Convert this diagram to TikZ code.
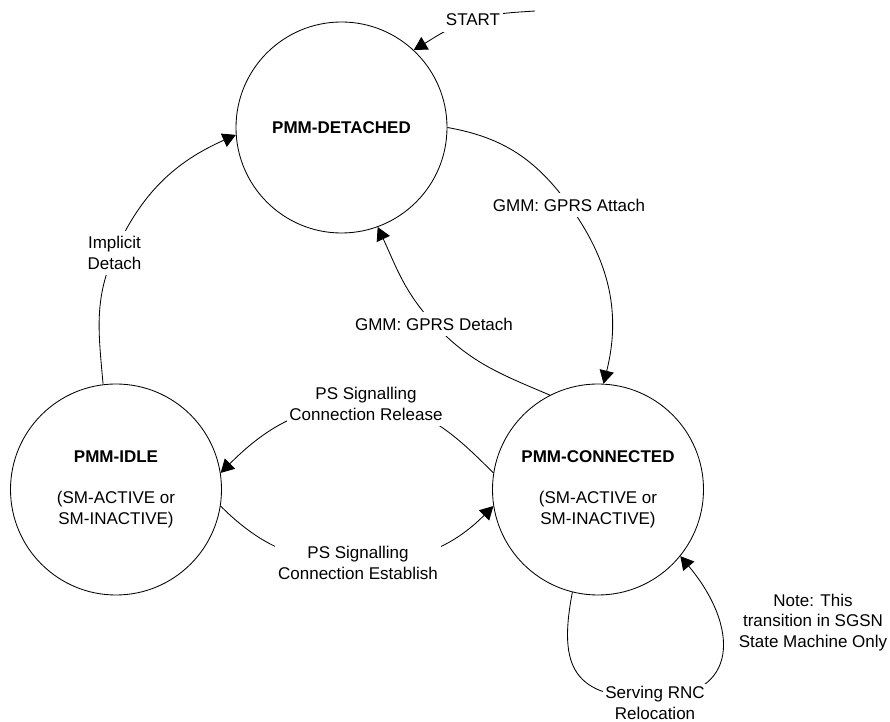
\documentclass[tikz,border=0pt]{standalone}
\usepackage{fontspec}
\setmainfont{Liberation Sans}
\usepackage{xcolor}
\usepackage{tikz}
\usetikzlibrary{arrows.meta,positioning}
\definecolor{bg}{HTML}{FFFFFF}
\definecolor{ink}{HTML}{000000}
\newcommand{\diafont}{\fontsize{12.1}{14.6}\selectfont}
\tikzset{
  pmmstate/.style={circle, draw=ink, line width=0.6pt, minimum size=52.75mm, inner sep=0pt, align=center, text=ink, font=\diafont},
  trans/.style={draw=ink, line width=0.6pt, -{Triangle[length=3.3mm, width=3.6mm]}},
  lab/.style={text=ink, fill=bg, inner xsep=2pt, inner ysep=4pt, align=center, font=\diafont},
  notetext/.style={text=ink, align=center, font=\diafont},
}

\begin{document}
\begin{tikzpicture}[x=0.25mm, y=-0.25mm]
\useasboundingbox (0,0) rectangle (890,722);
\fill[bg] (0,0) rectangle (890,722);

\node[pmmstate] (det) at (341.5,127.5) {\textbf{PMM-DETACHED}};
\node[pmmstate] (idle) at (116,489.5) {\textbf{PMM-IDLE}\\[14.6pt](SM-ACTIVE or\\SM-INACTIVE)};
\node[pmmstate] (con) at (598,489.5) {\textbf{PMM-CONNECTED}\\[14.6pt](SM-ACTIVE or\\SM-INACTIVE)};

\coordinate (pstart) at (535,11);
\coordinate (lstart) at (473,20);
\coordinate (limp) at (114.5,253);
\coordinate (latt) at (569,205);
\coordinate (lgdet) at (434,324);
\coordinate (lrel) at (366,404);
\coordinate (lest) at (358,563);
\coordinate (lrnc) at (652,698);

\draw[trans] (pstart) to[out=184,in=17] (lstart) to[out=197,in=31] (det.47);
\draw[trans] (idle.97) to[out=95,in=246] (limp) to[out=66,in=204] (det.184);
\draw[trans] (det.0) to[out=-10,in=126] (latt) to[out=-54,in=76] (con.87);
\draw[trans] (con.117) to[out=157,in=-47] (lgdet) to[out=133,in=-65] (det.-70);
\draw[trans] (con.171) to[out=135,in=0] (lrel) to[out=180,in=45] (idle.9);
\draw[trans] (idle.-9) to[out=-45,in=180] (lest) to[out=0,in=225] (con.189);
\draw[trans] (con.256) to[out=259,in=180,looseness=1.5] (lrnc) to[out=0,in=-50,looseness=1.6] (con.-39);

\node[lab] (start) at (lstart) {START};
\node[lab] (implicit) at (limp) {Implicit\\Detach};
\node[lab] (attach) at (latt) {GMM: GPRS Attach};
\node[lab] (gdetach) at (lgdet) {GMM: GPRS Detach};
\node[lab] (release) at (lrel) {PS Signalling\\Connection Release};
\node[lab] (establish) at (lest) {PS Signalling\\Connection Establish};
\node[lab, inner ysep=2pt] (rnc) at (655,703) {Serving RNC\\Relocation};
\node[notetext] (note) at (813,622.5) {Note: This\\transition in SGSN\\State Machine Only};
\end{tikzpicture}
\end{document}
